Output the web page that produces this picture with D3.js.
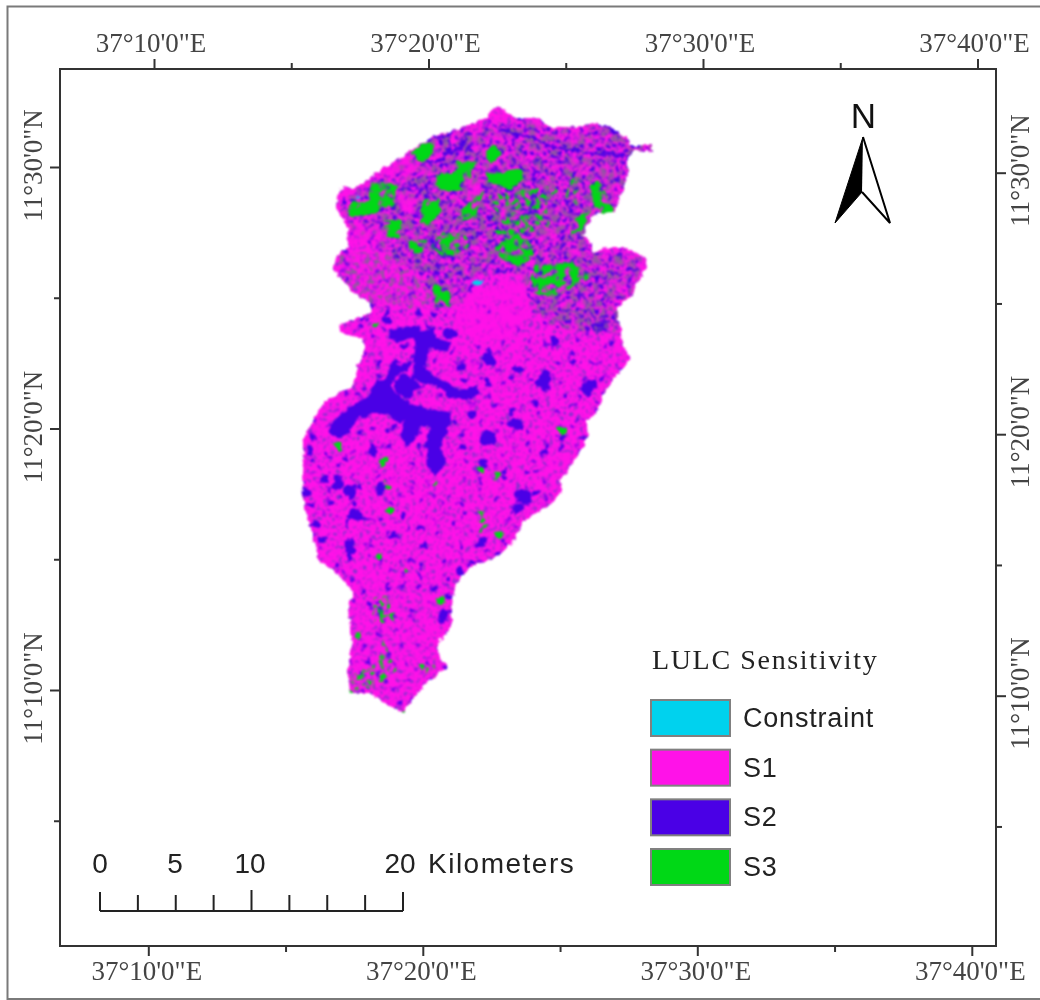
<!DOCTYPE html>
<html><head><meta charset="utf-8">
<script src="https://cdn.jsdelivr.net/npm/d3@7"></script>
<style>html,body{margin:0;padding:0;background:#fff}svg{display:block}</style>
</head><body><svg id="c" width="1040" height="1000"></svg>
<script>
// Values are arc-minutes: [minutes east of 37 deg, minutes north of 11 deg]
const lonMajor=[10,20,30,40], lonMinor=[15,25,35];
const latMajor=[30,20,10], latMinor=[25,15,5];
const legendTitle="LULC Sensitivity";
const classNames=["Constraint","S1","S2","S3"];
const classColors=["#00D2EE","#FF12E8","#4A00E6","#00D816"];
const mixedColor="#9058A0";
const fineColor="#8A30D0";
const scaleLabels=[0,5,10,20], scaleTicks=[0,2.5,5,7.5,10,12.5,15,17.5,20], scaleUnit="Kilometers";

const basinOutline=[[22.6,32.49],[22.97,32.18],[23.33,31.99],[24.06,31.99],[24.54,31.64],[25.26,31.61],[26.1,31.8],[26.72,31.64],[27.34,31.22],[27.45,30.96],[28.25,30.96],[28.25,30.69],[27.7,30.76],[27.38,30.5],[27.38,29.89],[27.27,29.5],[27.09,28.93],[26.9,28.39],[26.36,28.36],[25.99,28.16],[25.74,27.51],[26.07,27.21],[26.07,26.86],[26.61,27.02],[27.34,27.02],[28,26.67],[28.07,26.25],[27.63,25.6],[27.56,25.22],[26.98,24.72],[26.98,24.34],[27.16,23.96],[27.19,23.31],[27.45,22.81],[27.09,22.28],[26.61,21.66],[26.17,20.63],[25.88,20.44],[25.92,19.79],[25.52,19.03],[24.9,18.07],[24.97,17.65],[24.43,17.11],[23.92,16.81],[23.55,16.5],[23.19,15.77],[22.71,15.28],[22.09,15.01],[21.51,14.7],[21.07,14.05],[20.97,13.29],[20.97,12.52],[20.46,11.91],[20.46,11.57],[20.78,10.96],[20.16,10.5],[19.69,10],[19.18,9.27],[18.6,9.54],[17.98,10],[17.25,10],[17.14,10.88],[17.32,11.76],[17.18,13.06],[17.32,13.94],[16.63,14.7],[16.08,15.09],[15.87,16.12],[15.54,17.27],[15.5,18.41],[15.54,19.68],[15.9,20.44],[16.27,21.09],[16.52,21.32],[17.36,21.7],[17.54,22.54],[17.8,23.19],[17.69,23.58],[16.81,23.77],[16.96,24.15],[17.98,24.53],[17.98,24.91],[17.36,25.33],[16.63,26.18],[16.78,26.75],[17.18,27.06],[17.18,27.78],[16.7,28.66],[16.96,29.35],[17.43,29.31],[18.09,29.81],[19.33,30.65],[20.27,31.26],[21.26,31.61],[22.24,31.99]];

const s2Solid=[
[[19.68,23.69],[20.28,23.88],[20.35,23.5],[20.89,23.37],[20.77,23.12],[20.16,23.24],[20.02,22.86],[19.92,22.35],[20.28,22.1],[20.77,21.78],[21.26,21.52],[21.86,21.69],[21.96,21.46],[21.5,21.27],[20.89,21.33],[20.59,21.71],[20.04,21.9],[19.56,22.03],[19.62,22.61],[19.68,23.12]],
[[18.77,22.61],[19.07,22.41],[19.44,22.67],[19.37,22.48],[18.89,22.16],[18.65,21.71],[19.07,21.27],[19.44,21.01],[20.04,20.82],[20.83,20.69],[20.87,20.38],[20.71,19.93],[20.47,19.42],[20.71,18.78],[20.35,18.4],[20.1,18.78],[20.1,19.55],[20.16,19.99],[20.28,20.18],[19.8,20.25],[19.62,19.8],[19.31,19.48],[19.17,19.93],[19.34,20.57],[19.07,20.37],[18.65,20.69],[18.1,20.76],[17.74,20.57],[17.43,20.57],[17.19,19.99],[16.82,19.8],[16.52,19.99],[16.7,20.38],[17.19,20.82],[17.61,21.14],[17.98,21.27],[18.16,21.78],[18.65,22.03]],
[[18.89,21.9],[19.19,22.16],[19.5,21.97],[19.74,21.69],[19.34,21.31],[19.01,21.52]],
[[18.71,23.82],[19.31,23.95],[19.74,24.01],[19.68,23.63],[19.07,23.5],[18.77,23.56]]];

const s3Solid=[
[[19.49,30.64],[20.04,31.02],[20.28,30.96],[20.22,30.64],[19.86,30.38]],
[[20.52,29.81],[21.13,29.87],[21.31,29.56],[21.13,29.24],[20.52,29.24]],
[[22.22,29.87],[22.83,29.87],[23.5,30],[23.5,29.62],[23.07,29.3],[22.34,29.53]],
[[22.22,30.64],[22.53,30.96],[22.71,30.58],[22.4,30.32]],
[[17.67,28.66],[18.28,28.92],[18.28,28.41],[17.85,28.28],[17.37,28.34]],
[[20.04,28.54],[20.46,28.85],[20.52,28.47],[20.16,27.96],[19.86,27.96]],
[[18.7,28.03],[19.01,28.03],[18.94,27.52],[18.64,27.58]]];

const constraintPatches=[
[[21.68,25.73],[21.86,25.79],[22.13,25.73],[21.98,25.6],[21.74,25.6]],
[[17.43,28.98],[17.63,28.98],[17.55,28.92]]];

// Stream lines and rim lines of S2
const s2Streams=[
[[22.59,31.53],[24.05,31.14],[25.14,30.76],[25.99,30.63],[27.33,30.63]],
[[26.24,31.65],[27.08,31.4]],
[[20.28,31.28],[21.13,31.47]],
[[24.05,29.99],[23.99,28.97],[23.32,27.83]],
[[25.63,27.57],[25.39,27.38]],
[[22.6,26.1],[23.1,26.3]],
[[20.16,29.68],[20.04,28.92],[19.61,28.15]],
[[19.31,29.43],[19.92,29.17]],
[[23.8,29.17],[24.04,28.41]],
[[20.28,27.26],[20.52,26.75],[21.01,26.75]],
[[19.92,30.1],[20.7,30.6],[21.3,30.9]]];

// Mixed-class areas
const s2DenseZones=[[[20.4,31.28],[21.25,31.53],[21.98,31.6],[23.31,31.91],[24.53,31.6],[25.26,31.53],[26.11,31.72],[26.71,31.6],[28.23,30.96],[28.23,30.64],[27.38,29.56],[26.9,28.47],[25.99,28.22],[25.74,27.39],[26.05,26.88],[27.93,26.62],[27.56,25.35],[26.84,24.71],[27.08,23.69],[24.77,23.95],[23.8,24.97],[23.56,25.99],[22.83,26.11],[21.62,25.92],[21.37,24.97],[20.4,24.71],[19.92,25.86],[18.7,26.88],[17.25,27.77],[16.88,28.66],[18.09,29.68],[19.31,30.32]]];
const s2MediumZones=[[[16.64,26.75],[18.7,26.88],[20.16,25.73],[20.28,24.71],[18.1,24.84],[17,25.6]],[[23.8,24.71],[26.96,24.71],[27.08,23.95],[24.77,23.95]]];
const s1ClearZones=[
[[21.62,25.35],[23.56,25.73],[23.92,24.58],[23.07,23.56],[21.86,23.43],[21.01,24.07]],
[[18.82,28.79],[19.43,28.98],[19.92,28.66],[19.73,28.28],[19.07,28.47]],
[[18.34,29.94],[19.31,30.45],[19.92,30.13],[19.55,29.75],[18.7,29.68]],
[[22.47,30.32],[23.19,30.38],[22.95,30.07],[22.34,30]],
[[21.55,29.81],[22.04,29.56],[21.98,28.66],[21.49,28.92]],
[[17.37,28.15],[18.34,27.9],[18.46,27.26],[17.37,27.26]]];
const s3DenseZones=[
[[23.81,26.3],[25.26,26.55],[25.99,25.91],[24.78,25.15],[23.93,25.28]],
[[17.98,29.49],[18.95,29.49],[18.83,28.6],[17.98,28.6]],
[[18.52,28.09],[19.13,28.09],[19.07,27.38],[18.58,27.45]],
[[19.86,28.85],[20.34,28.85],[20.22,28.02],[19.8,28.09]],
[[20.4,29.87],[21.44,29.87],[21.38,29.23],[20.4,29.23]],
[[20.59,27.57],[21.07,27.57],[21.01,26.75],[20.59,26.81]],
[[17.25,28.79],[17.98,28.72],[17.86,28.28],[17.19,28.21]],
[[20.28,25.6],[20.95,25.53],[20.89,24.77],[20.34,24.77]],
[[19.43,27.32],[20.04,27.32],[20.04,26.81],[19.43,26.81]],
[[22.35,26.81],[23.2,27.7],[23.81,27.19],[23.93,26.68],[23.44,26.3]],
[[25.51,28.21],[25.99,28.4],[25.69,27.7],[25.26,27.45]],
[[26,29.61],[26.54,29.48],[26.6,28.47],[26.11,28.59]],
[[21.13,30.38],[21.86,30.32],[21.62,29.68],[21.01,29.94]],
[[21.37,28.54],[22.1,29.17],[21.86,28.15],[21.13,28.03]]];
const s3LightZones=[
[[25.26,29.87],[25.87,29.61],[25.5,28.72],[25.14,28.97]],
[[24.41,29.61],[24.78,29.23],[24.41,28.59],[24.17,28.85]],
[[22.34,29.05],[24.29,29.3],[24.53,27.77],[22.59,27.39]],
[[20.16,27.52],[21.37,27.77],[21.62,27.13],[20.89,26.62],[20.28,26.88]],
[[17.25,10.62],[18.22,11.13],[18.46,12.02],[18.94,10.87],[18.22,10.24],[17.37,10.11]],
[[19.92,10.87],[20.4,11.38],[20.28,10.62]],
[[18.1,13.68],[18.82,13.68],[18.7,12.66],[18.1,12.66]],
[[21.86,16.99],[22.34,16.99],[22.22,16.1],[21.86,16.23]]];

// [lon, lat, radius] in minutes
const s2Spots=[[16.88,18.01,.2],[17.31,17.63,.22],[17.37,16.8,.24],[18.88,15.97,.17],[17.25,15.59,.22],[17.18,15.21,.15],[22.28,19.73,.27],[22.1,18.78,.15],[23.19,20.31,.19],[21.74,20.69,.15],[21.37,19.42,.12],[23.56,17.5,.24],[23.32,17.12,.15],[24.04,17.63,.12],[15.79,19.16,.12],[16.21,18.14,.12],[15.79,17.76,.15],[16.03,16.48,.12],[16.15,15.85,.12],[21.25,14.63,.12],[20.89,13.74,.12],[20.64,12.91,.19],[18.28,13.04,.17],[18.34,17.82,.15],[19.25,16.74,.12],[18.1,19.29,.17],[22.04,15.78,.15],[20.04,15.72,.1],[22.34,22.8,.24],[21.25,22.42,.2],[24.65,23.37,.15],[25.99,21.71,.24],[24.29,21.97,.27],[26.35,24.07,.19],[23.32,22.35,.17],[25.38,22.67,.1],[22.34,21.9,.12],[18.58,24.2,.17],[20.89,23.75,.17],[20.28,24.52,.1]];
const s3Spots=[[16.82,19.48,.11],[18.46,18.78,.12],[18.58,17.95,.12],[18.64,17.06,.1],[18.28,15.34,.08],[20.58,13.59,.16],[17.55,12.17,.11],[22.65,16.04,.11],[22.53,18.29,.09],[21.98,18.55,.08],[25.02,19.99,.1],[20.4,18.01,.08],[19.25,14.76,.08],[18.88,12.98,.08],[17.31,10.04,.12],[19.19,9.34,.08],[19.92,11,.1],[18.04,24.04,.12],[16.79,19.48,.09],[18.46,18.76,.1],[26.59,28.47,.2]];

const svg=d3.select("#c");
const x=d3.scaleLinear().domain([10,40]).range([151,974.5]);
const y=d3.scaleLinear().domain([30,10]).range([170,693]);
const km=d3.scaleLinear().domain([0,20]).range([100,403]);
const kmLabel=km.copy().range([100,400]);
const serif='"Liberation Serif","Times New Roman",serif', sans='"Liberation Sans",Arial,sans-serif';
const defs=svg.append("defs");
const region=f=>f.attr("filterUnits","userSpaceOnUse").attr("x",280).attr("y",90).attr("width",400).attr("height",640).attr("color-interpolation-filters","sRGB");
function speckle(id,freq,seed,gain,bias,blur){
  const f=region(defs.append("filter").attr("id",id));
  f.append("feTurbulence").attr("type","fractalNoise").attr("baseFrequency",freq).attr("numOctaves",2).attr("seed",seed).attr("result","n");
  f.append("feColorMatrix").attr("in","n").attr("type","matrix").attr("values",`0 0 0 0 0 0 0 0 0 0 0 0 0 0 0 0 0 0 ${gain} ${bias}`).attr("result","m");
  f.append("feComposite").attr("in","SourceGraphic").attr("in2","m").attr("operator","in").attr("result","c");
  f.append("feGaussianBlur").attr("in","c").attr("stdDeviation",blur);
}
speckle("spkLight",.3,4,6,-3.3,.6);
speckle("spkLightBlue",.12,17,7,-4.4,.5);
speckle("spkMed",.2,9,6,-3.1,.7);
speckle("spkMud",.14,31,6,-2.85,.8);
speckle("spkDense",.25,12,7,-3.9,.6);
speckle("spkGreenDense",.14,21,7,-2.6,.5);
speckle("spkGreenLight",.2,27,7,-3.5,.6);
speckle("spkClear",.13,33,6,-2.3,.8);
function displacer(id,freq,scale,blur,seed){
  const f=region(defs.append("filter").attr("id",id));
  f.append("feTurbulence").attr("type","fractalNoise").attr("baseFrequency",freq).attr("numOctaves",2).attr("seed",seed).attr("result","n");
  f.append("feDisplacementMap").attr("in","SourceGraphic").attr("in2","n").attr("scale",scale).attr("xChannelSelector","R").attr("yChannelSelector","G").attr("result","d");
  f.append("feGaussianBlur").attr("in","d").attr("stdDeviation",blur);
}
displacer("rough",.16,6,.8,5);
displacer("wobble",.06,14,.3,8);
const line=d3.line().x(d=>x(d[0])).y(d=>y(d[1])).curve(d3.curveLinearClosed);
const openLine=d3.line().x(d=>x(d[0])).y(d=>y(d[1]));
defs.append("clipPath").attr("id","basinClip").append("path").attr("d",line(basinOutline));

// page frame
svg.append("path").attr("d",d3.line()([[1040,6.5],[7.5,6.5],[7.5,999],[1040,999]])).attr("fill","none").attr("stroke","#7a7a7a").attr("stroke-width",2);

// axes
const mj=10, mn=6, tc="#444";
const furniture=svg.append("g").attr("filter","url(#softAll)");
defs.append("filter").attr("id","softAll").attr("filterUnits","userSpaceOnUse").attr("x",0).attr("y",0).attr("width",1040).attr("height",1000).attr("color-interpolation-filters","sRGB").append("feGaussianBlur").attr("stdDeviation",.35);
function styleAxis(g){g.select(".domain").remove();g.selectAll("line").attr("stroke","#333").attr("stroke-width",2);g.selectAll("text").attr("font-family",serif).attr("font-size",27).attr("fill",tc);}
const lonFmt=v=>`37°${v}'0"E`, latFmt=v=>`11°${v}'0"N`;
function lonAxis(maker,y0,dx,textDx,baseline){
  furniture.append("g").attr("transform",`translate(${dx},${y0})`).call(maker(x).tickValues(lonMinor).tickSize(mn).tickFormat("")).call(styleAxis);
  furniture.append("g").attr("transform",`translate(${dx},${y0})`).call(maker(x).tickValues(lonMajor).tickSize(mj).tickFormat(lonFmt)).call(styleAxis)
    .selectAll("text").attr("y",baseline).attr("dy",0).attr("x",textDx);
}
lonAxis(d3.axisTop,69,3,-3.5,-17);
lonAxis(d3.axisBottom,946,-2.7,-2,34);
function latAxis(maker,x0,dy,bx,textDy){
  furniture.append("g").attr("transform",`translate(${x0},${dy})`).call(maker(y).tickValues(latMinor).tickSize(mn).tickFormat("")).call(styleAxis);
  furniture.append("g").attr("transform",`translate(${x0},${dy})`).call(maker(y).tickValues(latMajor).tickSize(mj).tickFormat(latFmt)).call(styleAxis)
    .selectAll("text").attr("x",0).attr("y",0).attr("dy",0).attr("text-anchor","middle").attr("transform",`translate(${bx},${textDy}) rotate(-90)`);
}
latAxis(d3.axisLeft,60,-3,-18,-2);
latAxis(d3.axisRight,996,2.7,33,-2.7);
furniture.append("rect").attr("x",60).attr("y",69).attr("width",936).attr("height",877).attr("fill","none").attr("stroke","#333").attr("stroke-width",2);

// map
const map=svg.append("g").attr("filter","url(#rough)").append("g").attr("clip-path","url(#basinClip)");
const fills=(filter,polys,color,opts={})=>{
  const g=map.append("g").attr("filter",filter?`url(#${filter})`:null).attr("fill",color);
  if(opts.grow) g.attr("stroke",color).attr("stroke-width",opts.grow).attr("stroke-linejoin","round");
  g.selectAll("path").data(polys).join("path").attr("d",line);
};
const spots=(data,color)=>map.append("g").attr("filter","url(#wobble)").attr("fill",color).selectAll("circle").data(data).join("circle")
  .attr("cx",d=>x(d[0])).attr("cy",d=>y(d[1])).attr("r",d=>(x(d[2])-x(0))*1.1);
const [cC,c1,c2,c3]=classColors;
fills(null,[basinOutline],c1);
fills("spkLight",[basinOutline],fineColor);
fills("spkLightBlue",[basinOutline],c2);
spots(s2Spots,c2);
fills("spkMed",s2MediumZones,mixedColor);
fills("spkMud",s2DenseZones,mixedColor);
fills("spkDense",s2DenseZones,c2);
map.append("g").attr("fill","none").attr("stroke",c2).attr("stroke-width",2.5).attr("filter","url(#wobble)").selectAll("path").data(s2Streams).join("path").attr("d",openLine);
fills("spkGreenLight",s3LightZones,c3);
fills("spkClear",s1ClearZones,c1);
fills("spkGreenDense",s3DenseZones,c3);
fills(null,s2Solid,c2,{grow:3});
fills(null,s3Solid,c3,{grow:2});
spots(s3Spots,c3);
fills(null,constraintPatches,cC);

// north arrow
furniture.append("text").attr("x",863.5).attr("y",128).attr("text-anchor","middle").attr("font-family",sans).attr("font-size",35).attr("fill","#111").text("N");
const nArrow=furniture.append("g").attr("transform","translate(863,137)");
nArrow.append("path").attr("d",d3.line()([[0,0],[27,86],[-1,55]])).attr("fill","#fff").attr("stroke","#000").attr("stroke-width",2);
nArrow.append("path").attr("d",d3.line()([[0,0],[-28,86],[-1,55]])).attr("fill","#000").attr("stroke","#000").attr("stroke-width",1);

// scale bar
const bar=furniture.append("g").attr("stroke","#222").attr("stroke-width",2);
bar.append("line").attr("x1",km(0)).attr("x2",km(20)).attr("y1",911).attr("y2",911);
bar.selectAll(".t").data(scaleTicks).join("line").attr("class","t").attr("x1",km).attr("x2",km).attr("y1",911)
  .attr("y2",d=>d===10?890:(d===0||d===20)?892:895);
furniture.selectAll(".sl").data(scaleLabels).join("text").attr("class","sl").attr("x",kmLabel).attr("y",873).attr("text-anchor","middle").attr("font-family",sans).attr("font-size",28).attr("fill","#222").text(d=>d);
furniture.append("text").attr("x",428).attr("y",873).attr("font-family",sans).attr("font-size",28).attr("letter-spacing",1.5).attr("fill","#222").text(scaleUnit);

// legend
furniture.append("text").attr("x",652).attr("y",669).attr("font-family",serif).attr("font-size",28).attr("letter-spacing",1.65).attr("fill","#222").text(legendTitle);
const rowY=d3.scalePoint().domain(classNames).range([700,849]);
const lg=furniture.selectAll(".lg").data(classNames).join("g").attr("class","lg").attr("transform",d=>`translate(651,${rowY(d)})`);
lg.append("rect").attr("width",79).attr("height",36).attr("fill",(d,i)=>classColors[i]).attr("stroke","#808080").attr("stroke-width",2);
lg.append("text").attr("x",92).attr("y",27).attr("font-family",sans).attr("font-size",27).attr("letter-spacing",.8).attr("fill","#222").text(d=>d);
</script></body></html>
